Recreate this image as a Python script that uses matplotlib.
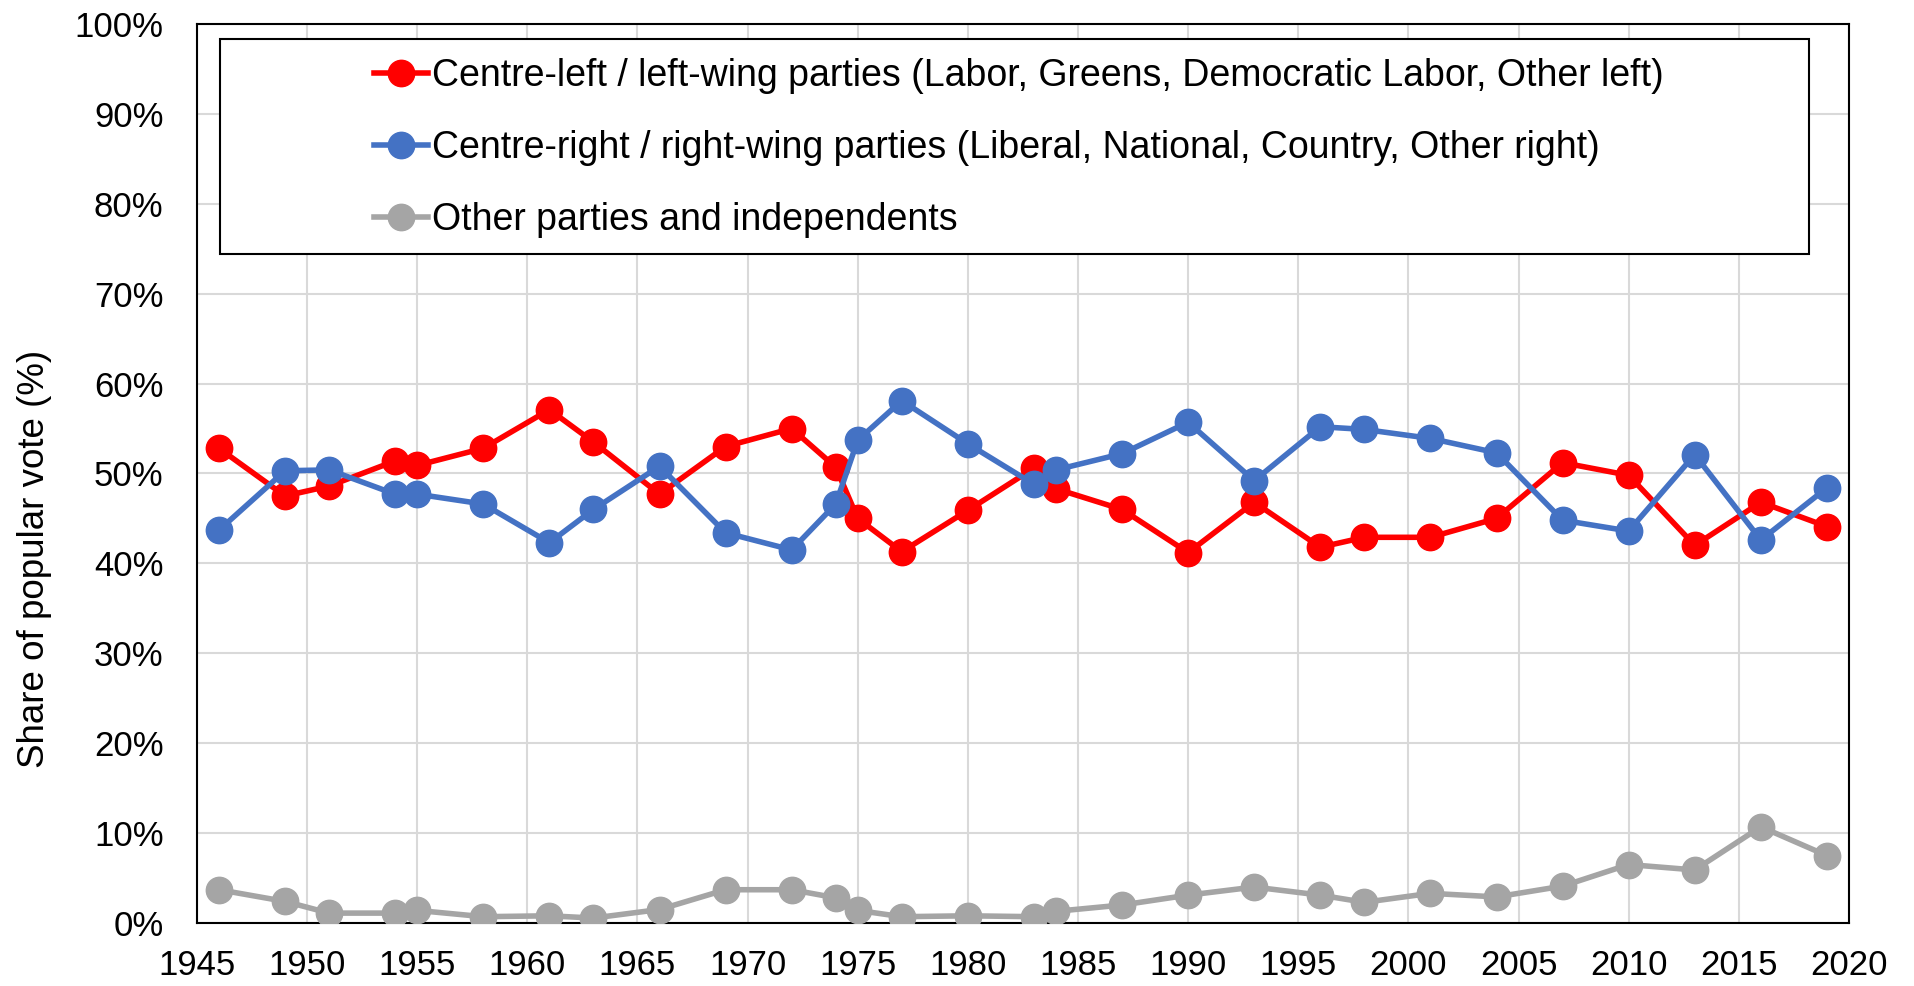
import matplotlib
matplotlib.use("Agg")
import matplotlib.pyplot as plt
from matplotlib.patches import Rectangle
from matplotlib.ticker import PercentFormatter

plt.rcParams['font.family'] = ['Liberation Sans', 'DejaVu Sans']

years = [1946, 1949, 1951, 1954, 1955, 1958, 1961, 1963, 1966, 1969, 1972, 1974, 1975,
         1977, 1980, 1983, 1984, 1987, 1990, 1993, 1996, 1998, 2001, 2004, 2007, 2010,
         2013, 2016, 2019]
left = [52.8, 47.5, 48.6, 51.4, 50.9, 52.8, 57.1, 53.5, 47.7, 53.0, 55.0, 50.7, 45.0,
        41.3, 45.9, 50.6, 48.3, 46.0, 41.2, 46.8, 41.8, 42.9, 42.9, 45.0, 51.2, 49.8,
        42.0, 46.8, 44.1]
right = [43.7, 50.3, 50.4, 47.7, 47.7, 46.6, 42.3, 46.0, 50.8, 43.4, 41.5, 46.6, 53.7,
         58.1, 53.3, 48.8, 50.4, 52.2, 55.7, 49.2, 55.2, 54.9, 53.9, 52.3, 44.8, 43.6,
         52.1, 42.6, 48.4]
other = [3.7, 2.4, 1.1, 1.1, 1.4, 0.7, 0.8, 0.55, 1.5, 3.7, 3.7, 2.8, 1.4,
         0.7, 0.8, 0.7, 1.3, 2.0, 3.1, 4.0, 3.1, 2.3, 3.3, 2.9, 4.1, 6.5,
         5.9, 10.7, 7.5]

labels = ["Centre-left / left-wing parties (Labor, Greens, Democratic Labor, Other left)",
          "Centre-right / right-wing parties (Liberal, National, Country, Other right)",
          "Other parties and independents"]
colors = ["#FF0000", "#4472C4", "#A5A5A5"]

fig = plt.figure(figsize=(19.14, 9.86), dpi=100)
ax = fig.add_axes([0.1029, 0.0639, 0.8631, 0.9118])

for vals, lab, c in zip([left, right, other], labels, colors):
    ax.plot(years, vals, color=c, lw=4, marker='o', ms=19, label=lab, zorder=3)

ax.set_xlim(1945, 2020)
ax.set_ylim(0, 100)
ax.set_xticks(range(1945, 2021, 5))
ax.set_yticks(range(0, 101, 10))
ax.yaxis.set_major_formatter(PercentFormatter(decimals=0))
ax.grid(True, color='#D9D9D9', lw=1.5, zorder=0)
ax.set_axisbelow(True)
ax.tick_params(axis='both', length=0, labelsize=25)
ax.tick_params(axis='y', pad=24)
ax.tick_params(axis='x', pad=19)
for s in ax.spines.values():
    s.set_color('black')
    s.set_linewidth(1.5)

ax.set_ylabel("Share of popular vote (%)", fontsize=26.5, labelpad=16)
ax.yaxis.set_label_coords(-0.088, 0.405)

ax.add_patch(Rectangle((0.0139, 0.744), 0.962, 0.239, transform=ax.transAxes,
                       facecolor='white', edgecolor='black', lw=1.5, zorder=4))
ax.legend(loc='center', bbox_to_anchor=(0.4975, 0.862), frameon=False, fontsize=27,
          labelspacing=0.97, handlelength=1.45, handletextpad=0.1).set_zorder(5)

fig.savefig("out.png", dpi=100)
